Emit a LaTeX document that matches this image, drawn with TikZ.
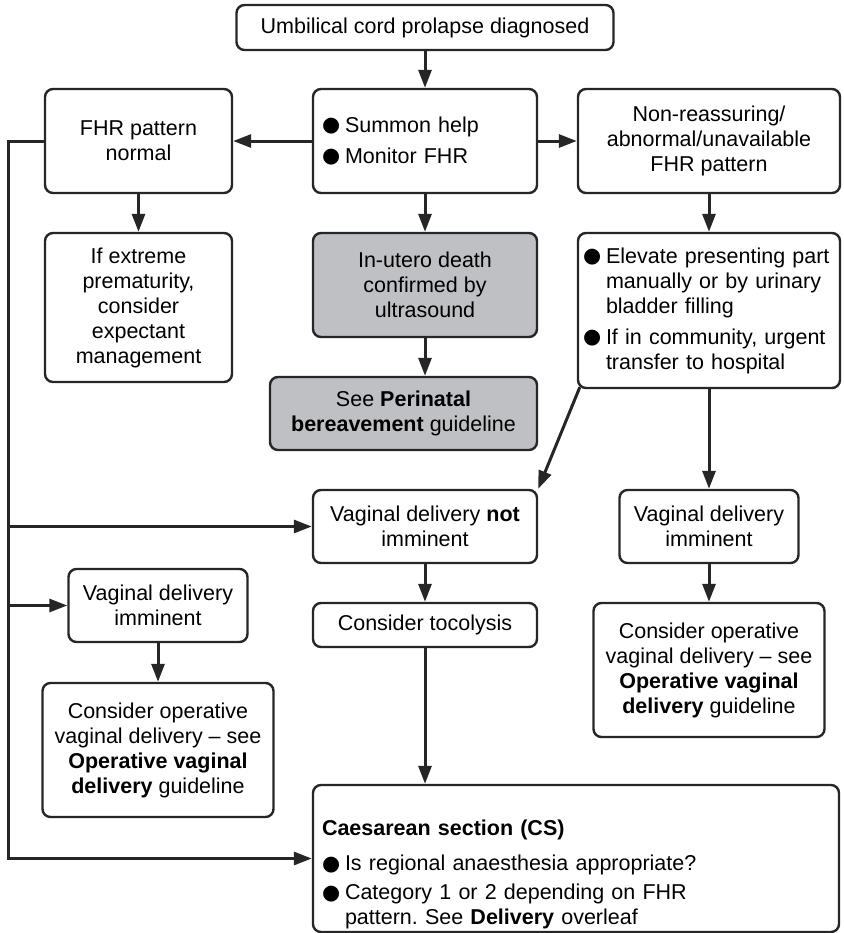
\documentclass[tikz,border=0pt]{standalone}
\usepackage{fontspec}
\setmainfont{Liberation Sans}
\newfontfamily\symfont{DejaVu Sans}
\usetikzlibrary{arrows.meta,positioning}
\definecolor{deadgray}{RGB}{191,192,195}
\newcommand{\bul}{\makebox[11.5pt][l]{\raisebox{0.2pt}{\symfont\fontsize{10.4}{10.4}\selectfont ●}}}
\newcommand{\bulgap}{\hspace*{11.5pt}}
\tikzset{
  box/.style={draw=black!85, line width=1.2pt, rounded corners=4pt, align=center, inner sep=0pt,
    font=\fontsize{10.75}{12.5}\selectfont},
  deadbox/.style={box, fill=deadgray},
  listbox/.style={box, align=left, inner xsep=4.5pt},
  flow/.style={-{Triangle[length=9pt,width=6.5pt]}, line width=1.5pt, black!85}
}
\frenchspacing

\begin{document}
\begin{tikzpicture}[x=0.5pt, y=-0.5pt]
\useasboundingbox (0,0) rectangle (843,933);

% top row
\node[box, minimum width=188.5pt, minimum height=22.5pt] (diag) at (425,27.5) {Umbilical cord prolapse diagnosed};
\node[listbox, minimum width=112pt, minimum height=52pt, text width=103pt] (help) at (425,141)
  {\bul Summon help\\[3pt]\bul Monitor FHR};
\node[box, minimum width=93.5pt, minimum height=52pt] (normal) at (138.5,141) {FHR pattern\\normal};
\node[box, minimum width=131pt, minimum height=52pt] (abn) at (709,141)
  {Non-reassuring/\\abnormal/unavailable\\FHR pattern};

% second row
\node[box, minimum width=93.5pt, minimum height=74.5pt] (prem) at (138.5,307.5)
  {If extreme\\prematurity,\\consider\\expectant\\management};
\node[deadbox, minimum width=112pt, minimum height=52pt] (death) at (425,285)
  {In-utero death\\confirmed by\\ultrasound};
\node[deadbox, minimum width=133.5pt, minimum height=36.5pt] (bereave) at (403.5,413.5)
  {See \textbf{Perinatal}\\\textbf{bereavement} guideline};
\node[listbox, inner xsep=2.5pt, minimum width=131pt, minimum height=77.5pt, text width=126pt] (elevate) at (709,310.5)
  {\bul Elevate presenting part\\\bulgap manually or by urinary\\\bulgap bladder filling\\[3pt]
   \bul If in community, urgent\\\bulgap transfer to hospital};

% delivery
\node[box, minimum width=112pt, minimum height=36.5pt] (notimm) at (425,526.5)
  {Vaginal delivery \textbf{not}\\imminent};
\node[box, minimum width=89.5pt, minimum height=36.5pt] (rimm) at (709,526.5)
  {Vaginal delivery\\imminent};
\node[box, minimum width=89.5pt, minimum height=36.5pt] (limm) at (158,605.5)
  {Vaginal delivery\\imminent};
\node[box, minimum width=112pt, minimum height=22pt] (toco) at (425,625) {Consider tocolysis};
\node[box, minimum width=115.5pt, minimum height=67pt] (rop) at (709,670)
  {Consider operative\\vaginal delivery -- see\\\textbf{Operative vaginal}\\\textbf{delivery} guideline};
\node[box, minimum width=115.5pt, minimum height=67pt] (lop) at (158,750)
  {Consider operative\\vaginal delivery -- see\\\textbf{Operative vaginal}\\\textbf{delivery} guideline};
\node[listbox, minimum width=263pt, minimum height=73.5pt, text width=254pt] (cs) at (576,858.5)
  {\rule{0pt}{24pt}\textbf{Caesarean section (CS)}\\[5pt]
   \bul Is regional anaesthesia appropriate?\\[2pt]
   \bul Category 1 or 2 depending on FHR\\\bulgap pattern. See \textbf{Delivery} overleaf};

\coordinate (rail) at (8,0);

% arrows
\draw[flow] (diag) -- (help);
\draw[flow] (help) -- (normal);
\draw[flow] (help) -- (abn);
\draw[flow] (normal) -- (prem);
\draw[flow] (help) -- (death);
\draw[flow] (abn) -- (elevate);
\draw[flow] (death.south) -- (death.south |- bereave.north);
\draw[flow] ([xshift=1.5pt,yshift=1pt]elevate.south west) -- (notimm.north east);
\draw[flow] (elevate.south) -- (rimm);
\draw[flow] (notimm) -- (toco);
\draw[flow] (rimm) -- (rop);
\draw[flow] (limm) -- (lop);
\draw[flow] (toco.south) -- (toco.south |- cs.north);

% left rail
\draw[flow] (normal.west) -| (rail |- cs.west) -- (cs.west);
\draw[flow] (rail |- notimm.west) -- (notimm.west);
\draw[flow] (rail |- limm.west) -- (limm.west);

\end{tikzpicture}
\end{document}
